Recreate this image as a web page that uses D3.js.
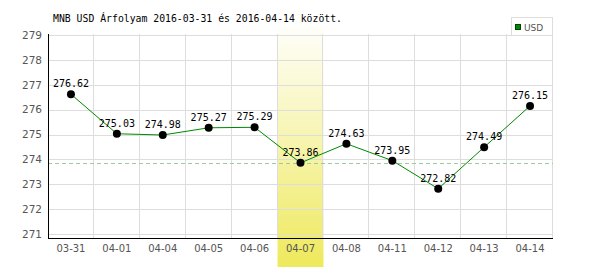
<!DOCTYPE html>
<html>
<head>
<meta charset="utf-8">
<script src="https://cdn.jsdelivr.net/npm/d3@7"></script>
<style>
  body { margin: 0; background: #fff; }
  svg { display: block; }
</style>
</head>
<body>
<div id="viz"></div>
<script>
const dates = ["03-31", "04-01", "04-04", "04-05", "04-06", "04-07", "04-08", "04-11", "04-12", "04-13", "04-14"];
const rates = [276.62, 275.03, 274.98, 275.27, 275.29, 273.86, 274.63, 273.95, 272.82, 274.49, 276.15];
const yTicks = [271, 272, 273, 274, 275, 276, 277, 278, 279];
const selectedDate = "04-07";
const selectedRate = 273.86;
const title = "MNB USD Árfolyam 2016-03-31 és 2016-04-14 között.";
const seriesName = "USD";

const width = 600, height = 270;
const margin = {top: 35, right: 47, bottom: 32, left: 48};

const svg = d3.select("#viz")
  .append("svg")
    .attr("width", width)
    .attr("height", height);

const x = d3.scaleBand()
  .domain(dates)
  .range([margin.left, width - margin.right]);

const y = d3.scaleLinear()
  .domain([270.84, 279])
  .range([height - margin.bottom, margin.top]);

// highlight band gradient
const grad = svg.append("defs").append("linearGradient")
  .attr("id", "hl").attr("x1", 0).attr("y1", 0).attr("x2", 0).attr("y2", 1);
grad.append("stop").attr("offset", "0%").attr("stop-color", "#ffffff");
grad.append("stop").attr("offset", "100%").attr("stop-color", "#eee95c");

svg.append("rect")
  .attr("x", x(selectedDate))
  .attr("y", 20)
  .attr("width", x.bandwidth())
  .attr("height", 247)
  .attr("fill", "url(#hl)");

// grid
svg.append("g")
  .selectAll("line")
  .data(yTicks)
  .enter().append("line")
    .attr("x1", margin.left).attr("x2", width - margin.right)
    .attr("y1", d => Math.round(y(d)) + 0.5).attr("y2", d => Math.round(y(d)) + 0.5)
    .attr("stroke", "#dddddd");

svg.append("g")
  .selectAll("line")
  .data(dates.slice(1).concat(["end"]))
  .enter().append("line")
    .attr("x1", (d, i) => Math.round(margin.left + (i + 1) * x.bandwidth()) - 0.5)
    .attr("x2", (d, i) => Math.round(margin.left + (i + 1) * x.bandwidth()) - 0.5)
    .attr("y1", margin.top - 1).attr("y2", height - margin.bottom)
    .attr("stroke", "#dddddd");

// reference line for the selected day
svg.append("line")
  .attr("x1", margin.left).attr("x2", width - margin.right)
  .attr("y1", Math.round(y(selectedRate)) + 0.5).attr("y2", Math.round(y(selectedRate)) + 0.5)
  .attr("stroke", "#99cc99")
  .attr("stroke-dasharray", "4,3");

// axes
svg.append("line")
  .attr("x1", margin.left + 0.5).attr("x2", margin.left + 0.5)
  .attr("y1", margin.top - 1).attr("y2", height - margin.bottom)
  .attr("stroke", "#000");
svg.append("line")
  .attr("x1", margin.left).attr("x2", width - margin.right)
  .attr("y1", height - margin.bottom + 0.5).attr("y2", height - margin.bottom + 0.5)
  .attr("stroke", "#000");

svg.append("g")
  .selectAll("text")
  .data(yTicks)
  .enter().append("text")
    .attr("x", margin.left - 6)
    .attr("y", d => y(d))
    .attr("dy", "0.36em")
    .attr("text-anchor", "end")
    .attr("font-family", "DejaVu Sans, Verdana, sans-serif")
    .attr("font-size", 10.5)
    .attr("fill", "#555")
    .text(d => d);

svg.append("g")
  .selectAll("text")
  .data(dates)
  .enter().append("text")
    .attr("x", d => x(d) + x.bandwidth() / 2)
    .attr("y", 252)
    .attr("text-anchor", "middle")
    .attr("font-family", "DejaVu Sans, Verdana, sans-serif")
    .attr("font-size", 10)
    .attr("fill", "#555")
    .text(d => d);

// series
const line = d3.line()
  .x((d, i) => x(dates[i]) + x.bandwidth() / 2)
  .y(d => y(d));

svg.append("path")
  .datum(rates)
  .attr("d", line)
  .attr("fill", "none")
  .attr("stroke", "#008800")
  .attr("stroke-width", 1);

svg.append("g")
  .selectAll("circle")
  .data(rates)
  .enter().append("circle")
    .attr("cx", (d, i) => x(dates[i]) + x.bandwidth() / 2)
    .attr("cy", d => y(d))
    .attr("r", 4)
    .attr("fill", "#000");

svg.append("g")
  .selectAll("text")
  .data(rates)
  .enter().append("text")
    .attr("x", (d, i) => x(dates[i]) + x.bandwidth() / 2)
    .attr("y", d => y(d) - 7)
    .attr("text-anchor", "middle")
    .attr("font-family", "DejaVu Sans Mono, monospace")
    .attr("font-size", 10)
    .attr("fill", "#000")
    .text(d => d.toFixed(2));

// title
svg.append("text")
  .attr("x", 53)
  .attr("y", 22)
  .attr("font-family", "DejaVu Sans Mono, monospace")
  .attr("font-size", 9.8)
  .attr("fill", "#000")
  .text(title);

// legend
const lg = svg.append("g");
lg.append("rect")
  .attr("x", 511.5).attr("y", 17.5)
  .attr("width", 41).attr("height", 18)
  .attr("fill", "#fff")
  .attr("stroke", "#dddddd");
lg.append("rect")
  .attr("x", 515.5).attr("y", 24.5)
  .attr("width", 5).attr("height", 5)
  .attr("fill", "#008800")
  .attr("stroke", "#004400");
lg.append("text")
  .attr("x", 524)
  .attr("y", 30.5)
  .attr("font-family", "DejaVu Sans, Verdana, sans-serif")
  .attr("font-size", 9)
  .attr("fill", "#555")
  .text(seriesName);
</script>
</body>
</html>
